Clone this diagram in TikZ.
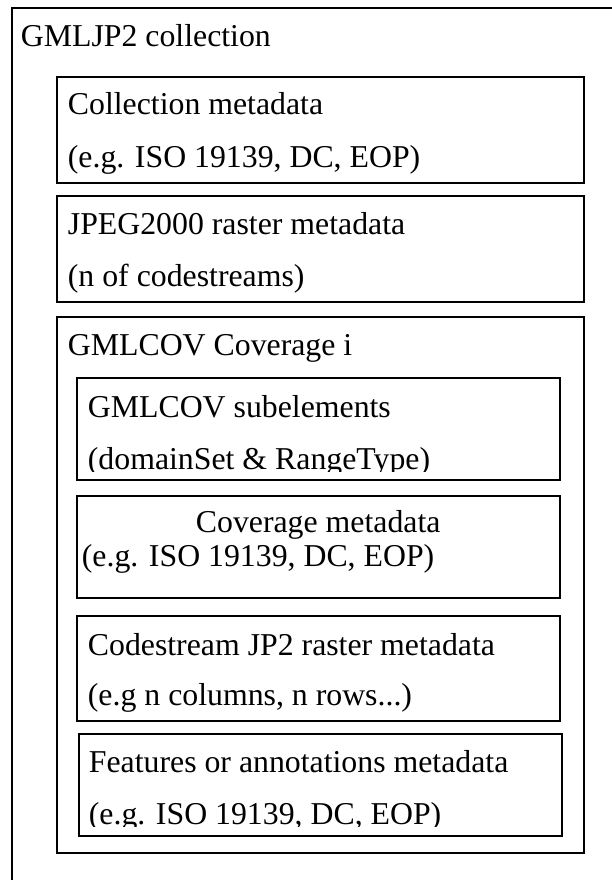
\documentclass[tikz,border=0pt]{standalone}
\usepackage{fontspec}
\setmainfont{Liberation Serif}

\tikzset{every picture/.style={line width=1.8pt}}
\tikzset{boxtext/.style={anchor=base west, inner sep=0pt, font=\fontsize{31.8}{38}\selectfont}}

\begin{document}
\begin{tikzpicture}[x=1pt,y=1pt,yscale=-1,xscale=1]
	\useasboundingbox (0,0) rectangle (612,880);
	\clip (0,0) rectangle (612,880);

	%Shape: Rectangle [id:collection]
	\draw   (12,8) rectangle (640,900) ;
	%Shape: Rectangle [id:collmeta]
	\draw   (57,77) rectangle (584,183) ;
	%Shape: Rectangle [id:rastermeta]
	\draw   (57,196) rectangle (584,302) ;
	%Shape: Rectangle [id:coverage]
	\draw   (57,317) rectangle (584,853) ;
	%Shape: Rectangle [id:subelem]
	\draw   (77,378) rectangle (560,480) ;
	%Shape: Rectangle [id:covmeta]
	\draw   (77,496) rectangle (560,598) ;
	%Shape: Rectangle [id:csmeta]
	\draw   (77,616) rectangle (560,721) ;
	%Shape: Rectangle [id:featmeta]
	\draw   (79,734) rectangle (562,836) ;

	% Text Node
	\draw (20,47) node [boxtext] (tcoll) {GMLJP2 collection};
	% Text Node
	\draw (67,115) node [boxtext] (tcollmeta) {Collection metadata};
	% Text Node
	\draw (67,167) node [boxtext] (tcolleg) {(e.g. ISO 19139, DC, EOP)};
	% Text Node
	\draw (67,234) node [boxtext] (traster) {JPEG2000 raster metadata};
	% Text Node
	\draw (67,286) node [boxtext] (trastern) {(n of codestreams)};
	% Text Node
	\draw (67,355) node [boxtext] (tcov) {GMLCOV Coverage i};
	% Text Node
	\draw (87,417) node [boxtext] (tsub) {GMLCOV subelements};
	% Text Node (cut at the bottom)
	\begin{scope}
		\clip (77,378) rectangle (560,471);
		\draw (87,469) node [boxtext] (tsubdom) {(domainSet \& RangeType)};
	\end{scope}
	% Text Node
	\draw (195,532) node [boxtext] (tcovmeta) {Coverage metadata};
	% Text Node
	\draw (81,566) node [boxtext] (tcoveg) {(e.g. ISO 19139, DC, EOP)};
	% Text Node
	\draw (87,655) node [boxtext] (tcs) {Codestream JP2 raster metadata};
	% Text Node
	\draw (87,705) node [boxtext] (tcseg) {(e.g n columns, n rows...)};
	% Text Node
	\draw (88,772) node [boxtext] (tfeat) {Features or annotations metadata};
	% Text Node (cut at the bottom)
	\begin{scope}
		\clip (79,734) rectangle (562,826);
		\draw (88,824) node [boxtext] (tfeateg) {(e.g. ISO 19139, DC, EOP)};
	\end{scope}

\end{tikzpicture}
\end{document}
